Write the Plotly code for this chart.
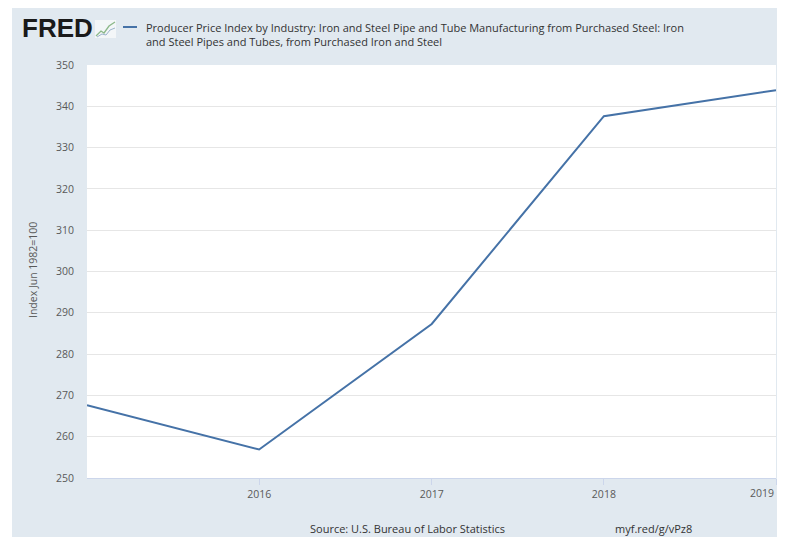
import plotly.graph_objects as go

dates = ["2015-01-01", "2016-01-01", "2017-01-01", "2018-01-01", "2019-01-01"]
values = [267.6, 256.9, 287.3, 337.6, 343.9]
y_ticks = [250, 260, 270, 280, 290, 300, 310, 320, 330, 340, 350]
x_tick_vals = ["2016-01-01", "2017-01-01", "2018-01-01", "2019-01-01"]
x_tick_text = ["2016", "2017", "2018", ""]
last_year_label = "2019"
series_title = ("Producer Price Index by Industry: Iron and Steel Pipe and Tube Manufacturing from Purchased Steel: Iron"
                "<br>and Steel Pipes and Tubes, from Purchased Iron and Steel")
y_title = "Index Jun 1982=100"
source_text = "Source: U.S. Bureau of Labor Statistics"
short_url = "myf.red/g/vPz8"

OFF = 8  # page body margin
W, H = 785, 537
# plot area in page pixels (visible viewport ends near x=777)
PL, PR, PT, PB = 87, 776, 65, 478
L, R, T, B = PL - OFF, PR - OFF, PT - OFF, PB - OFF
pw, ph = R - L, B - T


def px(x):  # page pixel x -> paper
    return (x - OFF - L) / pw


def py(y):  # page pixel y -> paper
    return (B - (y - OFF)) / ph


BG = "#e1e9f0"
LINE = "#4572a7"
TXT = "#595959"
FONT = "Open Sans, sans-serif"

fig = go.Figure()
fig.add_trace(go.Scatter(x=dates, y=values, mode="lines",
                         line=dict(color=LINE, width=2), hoverinfo="x+y",
                         showlegend=False))

shapes = [
    # white strip on the left
    dict(type="rect", xref="paper", yref="paper", x0=px(0), x1=px(12), y0=py(600), y1=py(0),
         fillcolor="white", line=dict(width=0), layer="below"),
    # legend swatch
    dict(type="line", xref="paper", yref="paper", x0=px(123), x1=px(137), y0=py(27), y1=py(27),
         line=dict(color=LINE, width=2)),
    # FRED icon
    dict(type="rect", xref="paper", yref="paper", x0=px(95), x1=px(116), y0=py(38), y1=py(20),
         fillcolor="#f3f6f8", line=dict(width=0)),
    dict(type="path", xref="paper", yref="paper",
         path=f"M {px(96)},{py(36)} L {px(101)},{py(31)} L {px(104)},{py(33)} L {px(109)},{py(26)} L {px(115)},{py(22)}",
         line=dict(color="#8cb88a", width=1.3)),
    dict(type="path", xref="paper", yref="paper",
         path=f"M {px(97)},{py(37)} L {px(102)},{py(34)} L {px(106)},{py(35)} L {px(110)},{py(30)} L {px(115)},{py(28)}",
         line=dict(color="#9bb3cc", width=1)),
]

annotations = [
    dict(text="<b>FRED</b>", xref="paper", yref="paper", x=px(20), y=py(28), xanchor="left",
         yanchor="middle", showarrow=False,
         font=dict(family="Liberation Sans, Arial, sans-serif", size=26, color="#1a1a1a")),
    dict(text=series_title, xref="paper", yref="paper", x=px(144), y=py(35), xanchor="left",
         yanchor="middle", align="left", showarrow=False,
         font=dict(family=FONT, size=11, color="#333333")),
    dict(text=source_text, xref="paper", yref="paper", x=px(407), y=py(528), xanchor="center",
         yanchor="middle", showarrow=False,
         font=dict(family=FONT, size=11, color="#333333")),
    dict(text=short_url, xref="paper", yref="paper", x=px(653), y=py(528), xanchor="center",
         yanchor="middle", showarrow=False,
         font=dict(family=FONT, size=11, color="#333333")),
    dict(text=y_title, xref="paper", yref="paper", x=px(33), y=py(270), xanchor="center",
         yanchor="middle", textangle=-90, showarrow=False,
         font=dict(family=FONT, size=10.5, color=TXT)),
    dict(text=last_year_label, xref="paper", yref="paper", x=1, y=py(493), xanchor="right",
         yanchor="middle", showarrow=False,
         font=dict(family=FONT, size=10.5, color=TXT)),
]

fig.update_layout(
    width=W, height=H,
    margin=dict(l=L, r=W - R, t=T, b=H - B, pad=0),
    paper_bgcolor=BG, plot_bgcolor="white",
    shapes=shapes, annotations=annotations,
    font=dict(family=FONT, size=10.5, color=TXT),
    xaxis=dict(type="date", range=["2015-01-01", "2019-01-01"],
               tickvals=x_tick_vals, ticktext=x_tick_text,
               showgrid=False, showline=True, linecolor="#ccd6eb", linewidth=1,
               ticks="outside", ticklen=6, tickcolor="#ccd6eb", tickwidth=1,
               tickfont=dict(size=10.5, color=TXT), zeroline=False, fixedrange=True),
    yaxis=dict(range=[250, 350], tickvals=y_ticks, showgrid=True, gridcolor="#e6e6e6",
               gridwidth=1, zeroline=False, showline=False, ticks="", ticklabelstandoff=12,
               tickfont=dict(size=10.5, color=TXT), fixedrange=True),
)

fig.write_html("out.html")
